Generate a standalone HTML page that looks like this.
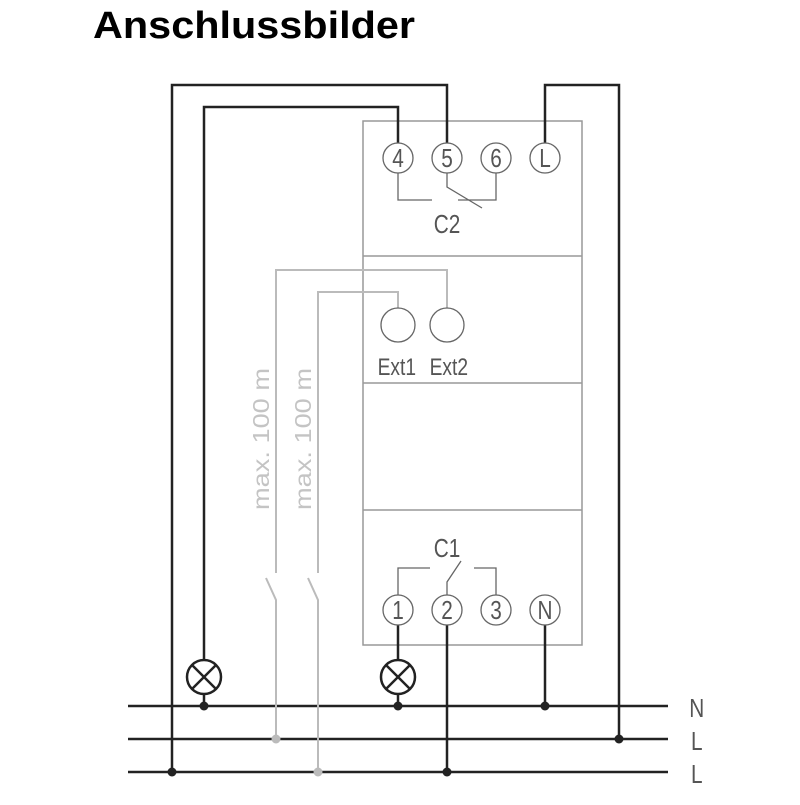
<!DOCTYPE html>
<html><head><meta charset="utf-8"><style>
body{margin:0;background:#fff;width:800px;height:800px;overflow:hidden}
</style></head><body>
<svg width="800" height="800" viewBox="0 0 800 800" xmlns="http://www.w3.org/2000/svg">
<text x="93" y="38" font-family="Liberation Sans, sans-serif" font-weight="bold" font-size="38" textLength="322" lengthAdjust="spacingAndGlyphs" fill="#000">Anschlussbilder</text>
<g fill="none" stroke="#999" stroke-width="1.5">
<rect x="363" y="121" width="219" height="524"/>
<line x1="363" y1="256" x2="582" y2="256"/>
<line x1="363" y1="383" x2="582" y2="383"/>
<line x1="363" y1="510" x2="582" y2="510"/>
</g>
<g fill="none" stroke="#222" stroke-width="2.5">
<polyline points="172,772 172,85 447,85 447,143"/>
<polyline points="204,660 204,107 398,107 398,143"/>
<polyline points="545,143 545,85 619,85 619,739"/>
<line x1="128" y1="706" x2="668" y2="706"/>
<line x1="128" y1="739" x2="668" y2="739"/>
<line x1="128" y1="772" x2="668" y2="772"/>
<line x1="204" y1="694" x2="204" y2="706"/>
<line x1="398" y1="625" x2="398" y2="660"/>
<line x1="398" y1="694" x2="398" y2="706"/>
<line x1="447" y1="625" x2="447" y2="772"/>
<line x1="545" y1="625" x2="545" y2="706"/>
<circle cx="204" cy="677" r="17"/>
<line x1="192" y1="665" x2="216" y2="689"/><line x1="216" y1="665" x2="192" y2="689"/>
<circle cx="398" cy="677" r="17"/>
<line x1="386" y1="665" x2="410" y2="689"/><line x1="410" y1="665" x2="386" y2="689"/>
</g>
<g fill="#222">
<circle cx="204" cy="706" r="4.5"/><circle cx="398" cy="706" r="4.5"/><circle cx="545" cy="706" r="4.5"/>
<circle cx="619" cy="739" r="4.5"/><circle cx="172" cy="772" r="4.5"/><circle cx="447" cy="772" r="4.5"/>
</g>
<g fill="none" stroke="#bbb" stroke-width="2">
<polyline points="276,573 276,270 447,270 447,308"/>
<polyline points="318,573 318,292 398,292 398,308"/>
<polyline points="266,578 276,600 276,739"/>
<polyline points="308,578 318,600 318,772"/>
</g>
<g fill="#bbb"><circle cx="276" cy="739" r="4.5"/><circle cx="318" cy="772" r="4.5"/></g>
<g fill="none" stroke="#666" stroke-width="1.3">
<circle cx="398" cy="158" r="15"/><circle cx="447" cy="158" r="15"/><circle cx="496" cy="158" r="15"/><circle cx="545" cy="158" r="15"/>
<circle cx="398" cy="610" r="15"/><circle cx="447" cy="610" r="15"/><circle cx="496" cy="610" r="15"/><circle cx="545" cy="610" r="15"/>
<circle cx="398" cy="325" r="17"/><circle cx="447" cy="325" r="17"/>
<polyline points="398,173 398,200 432,200"/>
<polyline points="447,173 447,187 482,208"/>
<polyline points="496,173 496,200 458,200"/>
<polyline points="398,595 398,568 430,568"/>
<polyline points="447,595 447,582 461,561"/>
<polyline points="496,595 496,568 474,568"/>
</g>
<g font-family="Liberation Sans, sans-serif" fill="#555" font-size="26" text-anchor="middle">
<g transform="scale(0.8,1)">
<text x="497.5" y="167">4</text><text x="558.75" y="167">5</text><text x="620" y="167">6</text><text x="681.25" y="167">L</text>
<text x="497.5" y="619">1</text><text x="558.75" y="619">2</text><text x="620" y="619">3</text><text x="681.25" y="619">N</text>
<text x="558.75" y="233">C2</text><text x="558.75" y="557">C1</text>
<text x="496" y="375" font-size="24">Ext1</text><text x="561" y="375" font-size="24">Ext2</text>
<text x="871" y="717">N</text><text x="871" y="750">L</text><text x="871" y="783">L</text>
</g>
</g>
<g font-family="Liberation Sans, sans-serif" fill="#c4c4c4" font-size="23" text-anchor="middle">
<text transform="translate(269,439) rotate(-90)" textLength="142" lengthAdjust="spacingAndGlyphs">max. 100 m</text>
<text transform="translate(311,439) rotate(-90)" textLength="142" lengthAdjust="spacingAndGlyphs">max. 100 m</text>
</g>
</svg>
</body></html>
